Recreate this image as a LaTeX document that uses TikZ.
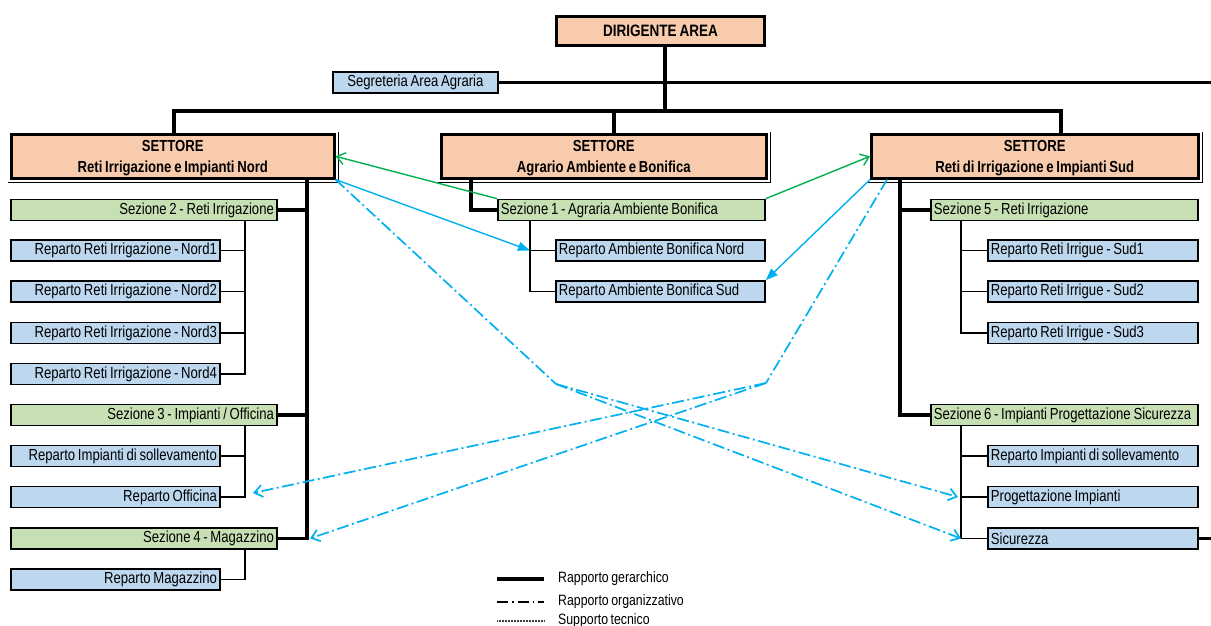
\documentclass[tikz,border=0pt]{standalone}
\usepackage{fontspec}
\setmainfont{Liberation Sans}[FakeStretch=0.82,WordSpace=0.75]
\usetikzlibrary{arrows.meta}

\definecolor{pesca}{HTML}{F8CBAD}
\definecolor{verdino}{HTML}{C6E0B4}
\definecolor{celeste}{HTML}{BDD7EE}
\definecolor{azzurro}{HTML}{00B0F0}
\definecolor{verde}{HTML}{00B050}

\newcommand{\alzo}{\rule{0pt}{15pt}}

\tikzset{
  settore/.style={draw=black, line width=2.6pt, fill=pesca, align=center,
    font=\fontsize{16}{21}\selectfont\bfseries, inner sep=0pt,
    anchor=north west, minimum height=44pt},
  casella/.style={draw=black, line width=1.8pt, inner sep=3pt, anchor=west,
    minimum height=20.5pt, font=\fontsize{16}{18}\selectfont},
  sezione/.style={casella, fill=verdino},
  reparto/.style={casella, fill=celeste},
  destra/.style={text width=#1, align=flush right},
  sinistra/.style={text width=#1, align=flush left},
  gerar/.style={draw=black, line width=3.6pt},
  ramo/.style={draw=black, line width=1.4pt},
  organiz/.style={draw=azzurro, line width=1.7pt,
    dash pattern=on 12pt off 3.5pt on 2pt off 3.5pt},
  fr aperta/.style={-{Straight Barb[length=8pt,width=12pt]}},
  fr verde/.style={draw=verde, line width=1.4pt, fr aperta},
  fr azzurra/.style={draw=azzurro, line width=1.4pt,
    -{Triangle[length=12pt,width=9pt]}},
  legenda/.style={anchor=west, inner sep=0pt, font=\fontsize{15}{16}\selectfont}
}

\begin{document}
\begin{tikzpicture}[x=1pt,y=-1pt]

   \useasboundingbox (0,0) rectangle (1211,626);

   % Vertice e segreteria

   \node[settore, minimum width=208pt, minimum height=29pt, line width=3pt,
     font=\fontsize{16.5}{18}\selectfont\bfseries] (dir) at (555,15) {DIRIGENTE AREA};
   \node[reparto, anchor=north west, text width=159pt, align=flush center] (seg) at (332,71) {Segreteria Area Agraria};

   % Settori

   \node[settore, minimum width=323pt] (nord) at (10,133) {\alzo SETTORE\\Reti Irrigazione e Impianti Nord};
   \node[settore, minimum width=325pt] (agr) at (440,133) {\alzo SETTORE\\Agrario Ambiente e Bonifica};
   \node[settore, minimum width=327pt] (sud) at (870,133) {\alzo SETTORE\\Reti di Irrigazione e Impianti Sud};

   \draw[line width=0.9pt] ([xshift=-2pt,yshift=-3pt]nord.south west) -- ([xshift=3pt,yshift=-3pt]nord.south east) -- ([xshift=3pt,yshift=1pt]nord.north east);
   \draw[line width=0.9pt] ([xshift=-2pt,yshift=-3pt]agr.south west) -- ([xshift=3pt,yshift=-3pt]agr.south east) -- ([xshift=3pt,yshift=1pt]agr.north east);
   \draw[line width=0.9pt] ([xshift=-2pt,yshift=-3pt]sud.south west) -- ([xshift=3pt,yshift=-3pt]sud.south east) -- ([xshift=3pt,yshift=1pt]sud.north east);

   % Sezioni e reparti Nord

   \node[sezione, destra=260pt] (sez2) at (10,210) {Sezione 2 - Reti Irrigazione};
   \node[reparto, destra=203pt] (rn1) at (10,250.5) {Reparto Reti Irrigazione - Nord1};
   \node[reparto, destra=203pt] (rn2) at (10,291.5) {Reparto Reti Irrigazione - Nord2};
   \node[reparto, destra=203pt] (rn3) at (10,333) {Reparto Reti Irrigazione - Nord3};
   \node[reparto, destra=203pt] (rn4) at (10,374) {Reparto Reti Irrigazione - Nord4};
   \node[sezione, destra=260pt] (sez3) at (10,415) {Sezione 3 - Impianti / Officina};
   \node[reparto, destra=203pt] (rimp) at (10,456) {Reparto Impianti di sollevamento};
   \node[reparto, destra=203pt] (roff) at (10,497) {Reparto Officina};
   \node[sezione, destra=260pt] (sez4) at (10,538.5) {Sezione 4 - Magazzino};
   \node[reparto, destra=203pt] (rmag) at (10,579.5) {Reparto Magazzino};

   % Sezione e reparti Agrario

   \node[sezione, sinistra=261pt] (sez1) at (497,210) {Sezione 1 - Agraria Ambiente Bonifica};
   \node[reparto, sinistra=203pt] (rabn) at (555,250.5) {Reparto Ambiente Bonifica Nord};
   \node[reparto, sinistra=203pt] (rabs) at (555,291.5) {Reparto Ambiente Bonifica Sud};

   % Sezioni e reparti Sud

   \node[sezione, sinistra=261pt] (sez5) at (930,210) {Sezione 5 - Reti Irrigazione};
   \node[reparto, sinistra=204pt] (rs1) at (987,250.5) {Reparto Reti Irrigue - Sud1};
   \node[reparto, sinistra=204pt] (rs2) at (987,291.5) {Reparto Reti Irrigue - Sud2};
   \node[reparto, sinistra=204pt] (rs3) at (987,333) {Reparto Reti Irrigue - Sud3};
   \node[sezione, sinistra=261pt] (sez6) at (930,415) {Sezione 6 - Impianti Progettazione Sicurezza};
   \node[reparto, sinistra=204pt] (rimp2) at (987,456) {Reparto Impianti di sollevamento};
   \node[reparto, sinistra=204pt] (prog) at (987,497) {Progettazione Impianti};
   \node[reparto, sinistra=204pt] (sic) at (987,538.5) {Sicurezza};

   % Punti di passaggio

   \coordinate (bus) at (0,111);
   \coordinate (fine) at (1216,0);
   \coordinate (dD) at (665,0);
   \coordinate (dN) at (174,0);
   \coordinate (dA) at (614,0);
   \coordinate (dS) at (1061,0);
   \coordinate (tN) at (307,0);
   \coordinate (vN) at (245,0);
   \coordinate (tA) at (471,0);
   \coordinate (vA) at (530,0);
   \coordinate (tS) at (900,0);
   \coordinate (vS) at (961,0);
   \coordinate (kN) at (556,384);
   \coordinate (kS) at (766,383);

   % Rapporto gerarchico

   \draw[gerar] (dir.south -| dD) -- (dD |- bus);
   \draw[gerar] (dN |- nord.north) -- (dN |- bus) -- (dS |- bus) -- (dS |- sud.north);
   \draw[gerar] (dA |- bus) -- (dA |- agr.north);
   \draw[gerar] (seg.east) -- (seg.east -| fine);

   \draw[gerar] (tN |- nord.south) -- (tN |- sez4.east) -- (sez4.east);
   \draw[gerar] (sez2.east) -- (sez2.east -| tN);
   \draw[gerar] (sez3.east) -- (sez3.east -| tN);
   \draw[ramo] (sez2.south -| vN) |- (rn4.east);
   \draw[ramo] (rn1.east) -- (rn1.east -| vN);
   \draw[ramo] (rn2.east) -- (rn2.east -| vN);
   \draw[ramo] (rn3.east) -- (rn3.east -| vN);
   \draw[ramo] (sez3.south -| vN) |- (roff.east);
   \draw[ramo] (rimp.east) -- (rimp.east -| vN);
   \draw[ramo] (sez4.south -| vN) |- (rmag.east);

   \draw[gerar] (tA |- agr.south) |- (sez1.west);
   \draw[ramo] (sez1.south -| vA) |- (rabs.west);
   \draw[ramo] (rabn.west) -- (rabn.west -| vA);

   \draw[gerar] (tS |- sud.south) |- (sez6.west);
   \draw[gerar] (sez5.west) -- (sez5.west -| tS);
   \draw[ramo] (sez5.south -| vS) |- (rs3.west);
   \draw[ramo] (rs1.west) -- (rs1.west -| vS);
   \draw[ramo] (rs2.west) -- (rs2.west -| vS);
   \draw[ramo] (sez6.south -| vS) |- (sic.west);
   \draw[ramo] (rimp2.west) -- (rimp2.west -| vS);
   \draw[ramo] (prog.west) -- (prog.west -| vS);
   \draw[gerar] (sic.east) -- (sic.east -| fine);

   % Frecce verdi e azzurre

   \draw[fr verde] (sez1.north west) -- (nord.east);
   \draw[fr verde] (sez1.north east) -- (sud.west);
   \draw[fr azzurra] (nord.south east) -- (rabn.west -| vA);
   \draw[fr azzurra] (sud.south west) -- (rabs.north east);

   % Rapporto organizzativo

   \draw[organiz] (nord.south east) -- (kN);
   \draw[organiz, fr aperta] (kN) -- ([xshift=-3pt]prog.west -| vS);
   \draw[organiz, fr aperta] (kN) -- (sic.west -| vS);
   \draw[organiz] ([xshift=17pt]sud.south west) -- (kS);
   \draw[organiz, fr aperta] (kS) -- ([xshift=8pt,yshift=4pt]roff.east -| vN);
   \draw[organiz, fr aperta] (kS) -- ([xshift=3pt]sez4.east -| tN);

   % Legenda

   \coordinate (lgA) at (497,0);
   \coordinate (lgB) at (544,0);
   \node[legenda] (lg1) at (558,579) {Rapporto gerarchico};
   \node[legenda] (lg2) at (558,602) {Rapporto organizzativo};
   \node[legenda] (lg3) at (558,621) {Supporto tecnico};
   \draw[line width=4.4pt] (lg1.west -| lgA) -- (lg1.west -| lgB);
   \draw[line width=1.5pt, dash pattern=on 11pt off 4pt on 1.5pt off 4pt] (lg2.west -| lgA) -- (lg2.west -| lgB);
   \draw[line width=1.6pt, black!75, dash pattern=on 0.9pt off 0.6pt] (lg3.west -| lgA) -- (lg3.west -| lgB);

\end{tikzpicture}
\end{document}
